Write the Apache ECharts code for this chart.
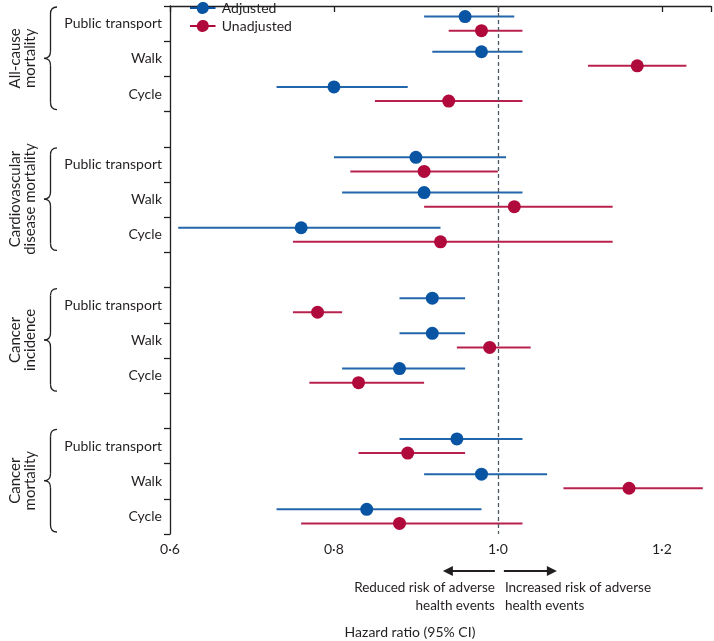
<!DOCTYPE html>
<html>
<head>
<meta charset="utf-8">
<script src="https://cdn.jsdelivr.net/npm/echarts@6/dist/echarts.min.js"></script>
<style>
  html, body { margin: 0; padding: 0; background: #fff; }
  #chart { width: 714px; height: 641px; }
</style>
</head>
<body>
<div id="chart"></div>
<script>
// rows inside each group, and the groups (outcomes)
const categories = ['Public transport', 'Walk', 'Cycle'];
const groups = ['All-cause\nmortality', 'Cardiovascular\ndisease mortality', 'Cancer\nincidence', 'Cancer\nmortality'];

// hazard ratios (group order, then row order)
const adjEst  = [0.96, 0.98, 0.80,  0.90, 0.91, 0.76,  0.92, 0.92, 0.88,  0.95, 0.98, 0.84];
const adjLow  = [0.91, 0.92, 0.73,  0.80, 0.81, 0.61,  0.88, 0.88, 0.81,  0.88, 0.91, 0.73];
const adjHigh = [1.02, 1.03, 0.89,  1.01, 1.03, 0.93,  0.96, 0.96, 0.96,  1.03, 1.06, 0.98];

const unadjEst  = [0.98, 1.17, 0.94,  0.91, 1.02, 0.93,  0.78, 0.99, 0.83,  0.89, 1.16, 0.88];
const unadjLow  = [0.94, 1.11, 0.85,  0.82, 0.91, 0.75,  0.75, 0.95, 0.77,  0.83, 1.08, 0.76];
const unadjHigh = [1.03, 1.23, 1.03,  1.00, 1.14, 1.14,  0.81, 1.04, 0.91,  0.96, 1.25, 1.03];

const xTicks = [0.6, 0.8, 1.0, 1.2];

const BLUE = '#0a55a3';
const RED = '#b0093b';
const INK = '#231f20';
const FONT = 'Lato';

// y labels: 3 rows per group plus an empty spacer row between groups
const rowLabels = [];
groups.forEach((g, gi) => {
    categories.forEach(c => rowLabels.push(c));
    if (gi < groups.length - 1) rowLabels.push('');
});

function buildData (est, low, high, offset) {
    const out = [];
    est.forEach((v, i) => {
        const g = Math.floor(i / 3);
        const k = i % 3;
        out.push([low[i], high[i], v, g * 4 + k + offset]);
    });
    return out;
}

function renderItem (params, api) {
    const y = api.value(3);
    const lo = api.coord([api.value(0), y]);
    const hi = api.coord([api.value(1), y]);
    const mid = api.coord([api.value(2), y]);
    const color = api.visual('color');
    return {
        type: 'group',
        children: [
            { type: 'line', shape: { x1: lo[0], y1: lo[1], x2: hi[0], y2: hi[1] }, style: { stroke: color, lineWidth: 2, opacity: 0.9 } },
            { type: 'circle', shape: { cx: mid[0], cy: mid[1], r: 6.5 }, style: { fill: color } }
        ]
    };
}

const legendIcon = 'path://M0,6L7.48,6A6.6,6.6,0,0,1,20.52,6L28,6L28,8L20.52,8A6.6,6.6,0,0,1,7.48,8L0,8Z';

const chart = echarts.init(document.getElementById('chart'), null, { renderer: 'canvas' });

const option = {
    animation: false,
    textStyle: { fontFamily: FONT, color: INK },
    grid: { left: 170, right: 0, top: 6, bottom: 107, containLabel: false },
    legend: {
        orient: 'vertical',
        left: 190,
        top: 1,
        padding: 0,
        itemWidth: 28,
        itemHeight: 12,
        itemGap: 4,
        icon: legendIcon,
        textStyle: { fontFamily: FONT, fontSize: 14, color: INK },
        data: ['Adjusted', 'Unadjusted']
    },
    xAxis: {
        type: 'value',
        min: 0.6,
        max: 1.26,
        interval: 0.2,
        axisLine: { lineStyle: { color: INK, width: 1.3 } },
        axisTick: { show: true, length: 6, lineStyle: { color: INK, width: 1.3 } },
        axisLabel: {
            fontFamily: FONT, fontSize: 14, color: INK, margin: 8,
            formatter: v => {
                const t = xTicks.find(x => Math.abs(x - v) < 1e-6);
                return t === undefined ? '' : t.toFixed(1).replace('.', '·');
            }
        },
        splitLine: { show: false }
    },
    yAxis: [
        {
            type: 'value',
            min: 0,
            max: 15,
            inverse: true,
            show: false
        },
        {
            type: 'category',
            data: rowLabels,
            inverse: true,
            position: 'left',
            axisLine: { lineStyle: { color: INK, width: 1.3 } },
            axisTick: { show: true, length: 6, lineStyle: { color: INK, width: 1.3 } },
            axisLabel: { fontFamily: FONT, fontSize: 14, color: INK, margin: 8 },
            splitLine: { show: false }
        }
    ],
    series: [
        {
            name: 'Adjusted',
            type: 'custom',
            xAxisIndex: 0,
            yAxisIndex: 0,
            itemStyle: { color: BLUE },
            renderItem: renderItem,
            encode: { x: [0, 1, 2], y: 3 },
            data: buildData(adjEst, adjLow, adjHigh, 0.3),
            markLine: {
                silent: true,
                symbol: ['none', 'none'],
                label: { show: false },
                lineStyle: { color: '#4b5963', type: [4, 3], width: 1.3 },
                data: [{ xAxis: 1.0 }]
            },
            z: 3
        },
        {
            name: 'Unadjusted',
            type: 'custom',
            xAxisIndex: 0,
            yAxisIndex: 0,
            itemStyle: { color: RED },
            renderItem: renderItem,
            encode: { x: [0, 1, 2], y: 3 },
            data: buildData(unadjEst, unadjLow, unadjHigh, 0.7),
            z: 3
        }
    ]
};

chart.setOption(option);

// decorations: group braces, rotated group titles, arrows and axis captions
const px = v => chart.convertToPixel({ xAxisIndex: 0 }, v);
const py = v => chart.convertToPixel({ yAxisIndex: 0 }, v);

const elements = [];
const line = { stroke: INK, lineWidth: 1.3, fill: null };

groups.forEach((g, gi) => {
    const y0 = py(gi * 4) + 1;
    const y1 = py(gi * 4 + 3) - 2;
    const ym = (y0 + y1) / 2;
    const xl = 44, xm = 50.5, xr = 57, r = 7;
    elements.push(
        { type: 'bezierCurve', shape: { x1: xr, y1: y0, x2: xm, y2: y0 + r, cpx1: xm, cpy1: y0 }, style: line },
        { type: 'line', shape: { x1: xm, y1: y0 + r, x2: xm, y2: ym - r }, style: line },
        { type: 'bezierCurve', shape: { x1: xm, y1: ym - r, x2: xl, y2: ym, cpx1: xm, cpy1: ym }, style: line },
        { type: 'bezierCurve', shape: { x1: xl, y1: ym, x2: xm, y2: ym + r, cpx1: xm, cpy1: ym }, style: line },
        { type: 'line', shape: { x1: xm, y1: ym + r, x2: xm, y2: y1 - r }, style: line },
        { type: 'bezierCurve', shape: { x1: xm, y1: y1 - r, x2: xr, y2: y1, cpx1: xm, cpy1: y1 }, style: line },
        {
            type: 'text', x: 23, y: ym, rotation: Math.PI / 2,
            style: { text: g, fontFamily: FONT, fontSize: 15, lineHeight: 15, fill: INK, align: 'center', verticalAlign: 'middle' }
        }
    );
});

const x1 = px(1.0);
const ya = 571;
elements.push(
    { type: 'line', shape: { x1: x1 - 3, y1: ya, x2: x1 - 46, y2: ya }, style: { stroke: INK, lineWidth: 1.8 } },
    { type: 'polygon', shape: { points: [[x1 - 55, ya], [x1 - 45, ya - 5], [x1 - 45, ya + 5]] }, style: { fill: INK } },
    { type: 'line', shape: { x1: x1 + 6, y1: ya, x2: x1 + 50, y2: ya }, style: { stroke: INK, lineWidth: 1.8 } },
    { type: 'polygon', shape: { points: [[x1 + 59, ya], [x1 + 49, ya - 5], [x1 + 49, ya + 5]] }, style: { fill: INK } },
    {
        type: 'text', x: x1 - 3, y: 579,
        style: { text: 'Reduced risk of adverse\nhealth events', fontFamily: FONT, fontSize: 13.5, lineHeight: 18, fill: INK, align: 'right', verticalAlign: 'top' }
    },
    {
        type: 'text', x: x1 + 7, y: 579,
        style: { text: 'Increased risk of adverse\nhealth events', fontFamily: FONT, fontSize: 13.5, lineHeight: 18, fill: INK, align: 'left', verticalAlign: 'top' }
    },
    {
        type: 'text', x: 410, y: 632,
        style: { text: 'Hazard ratio (95% CI)', fontFamily: FONT, fontSize: 14, fill: INK, align: 'center', verticalAlign: 'middle' }
    }
);

chart.setOption({ graphic: { elements: elements } });
</script>
</body>
</html>
